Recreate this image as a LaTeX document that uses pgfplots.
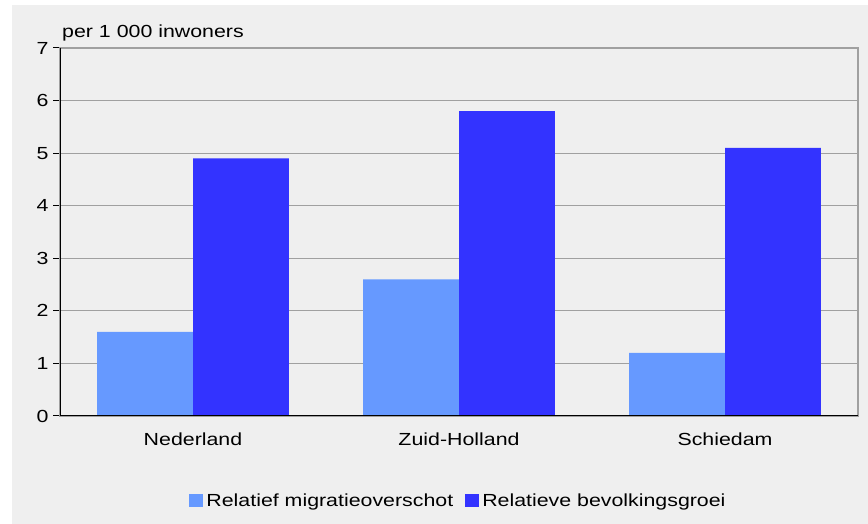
\documentclass[border=0pt]{standalone}
\usepackage{fontspec}
\setmainfont{Liberation Sans}[FakeStretch=1.22]
\usepackage{pgfplots}
\pgfplotsset{compat=1.18}
\definecolor{bg}{HTML}{EFEFEF}
\definecolor{lightb}{HTML}{6699FF}
\definecolor{darkb}{HTML}{3333FF}
\definecolor{gridc}{HTML}{A0A0A0}
\begin{document}
\begin{tikzpicture}[x=1pt,y=1pt]
\useasboundingbox (0,0) rectangle (868,524);
\fill[bg] (12,0) rectangle (868,519);
\begin{axis}[
  at={(60pt,108pt)}, anchor=south west,
  width=798pt, height=368pt, scale only axis,
  font=\fontsize{17.5}{20}\selectfont,
  /pgf/number format/assume math mode=true,
  ybar=0pt, bar width=0.36,
  xmin=-0.5, xmax=2.5, ymin=0, ymax=7,
  xtick={0,1,2}, xticklabels={Nederland,Zuid-Holland,Schiedam},
  ytick={0,1,...,7},
  xtick style={draw=none},
  ytick pos=left, tick align=outside, major tick length=7pt,
  ytick style={black, line width=1pt},
  ymajorgrids, grid style={gridc, line width=1.2pt},
  axis line style={gridc, line width=1.2pt},
  yticklabel style={xshift=-1pt},
  xticklabel style={yshift=-6pt},
  legend style={draw=none, fill=none, at={(0.5,-0.2296)}, anchor=center,
    legend columns=-1, font=\fontsize{17.5}{20}\selectfont,
    /tikz/every even column/.append style={column sep=9pt},
    nodes={inner xsep=3pt}},
  legend image code/.code={\fill[#1] (0pt,-6.5pt) rectangle (14pt,6.5pt);},
]
\addplot[fill=lightb, draw=none] coordinates {(0,1.6) (1,2.6) (2,1.2)};
\addplot[fill=darkb, draw=none] coordinates {(0,4.9) (1,5.8) (2,5.1)};
\legend{Relatief migratieoverschot, Relatieve bevolkingsgroei}
\draw[black, line width=1.2pt] (rel axis cs:0,1) -- (rel axis cs:0,0) -- (rel axis cs:1,0);
\end{axis}
\node[anchor=base west, inner sep=0pt, font=\fontsize{17.5}{20}\selectfont] at (62,486) {per 1 000 inwoners};
\end{tikzpicture}
\end{document}
